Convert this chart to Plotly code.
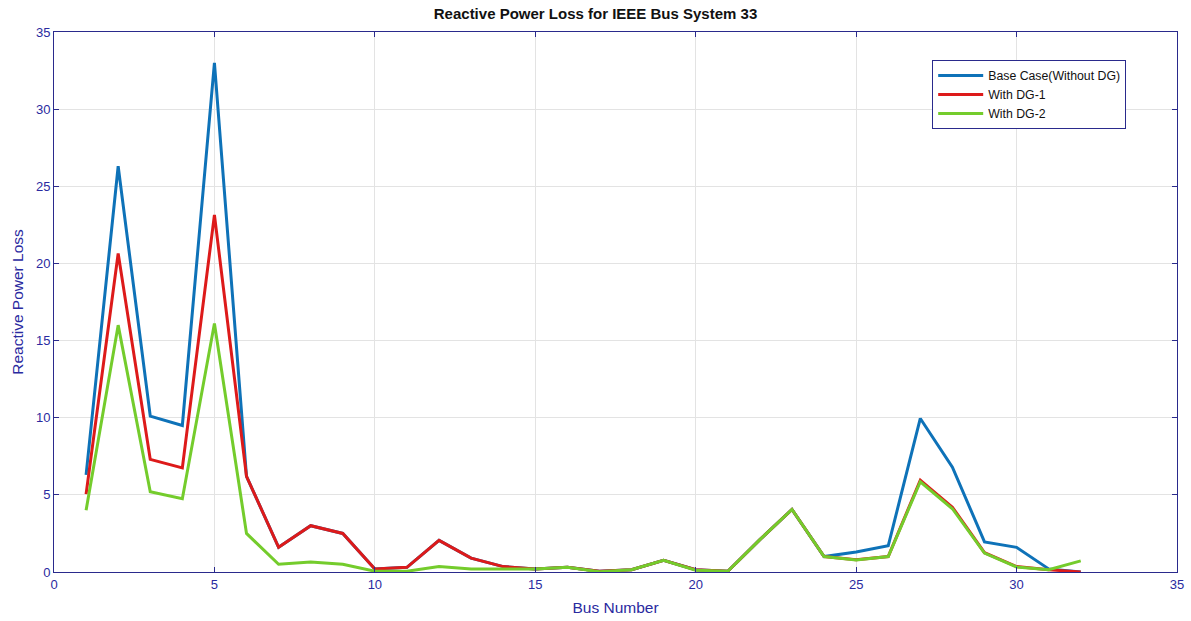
import plotly.graph_objects as go

bus = list(range(1, 33))
base_case = [6.3, 26.3, 10.1, 9.5, 33.0, 6.2, 1.6, 3.0, 2.5, 0.2, 0.3, 2.05, 0.9, 0.35, 0.2, 0.3,
             0.05, 0.15, 0.75, 0.15, 0.05, 2.1, 4.05, 1.0, 1.3, 1.7, 9.95, 6.8, 1.95, 1.6, 0.2, 0.0]
with_dg1 = [5.05, 20.65, 7.3, 6.75, 23.15, 6.2, 1.6, 3.0, 2.5, 0.2, 0.3, 2.05, 0.9, 0.35, 0.2, 0.3,
            0.05, 0.15, 0.75, 0.15, 0.05, 2.1, 4.05, 1.0, 0.8, 1.0, 5.95, 4.2, 1.25, 0.35, 0.15, 0.0]
with_dg2 = [4.0, 16.0, 5.2, 4.75, 16.1, 2.5, 0.5, 0.65, 0.5, 0.05, 0.05, 0.35, 0.2, 0.2, 0.2, 0.3,
            0.02, 0.15, 0.75, 0.12, 0.05, 2.1, 4.05, 1.0, 0.78, 1.0, 5.85, 4.1, 1.23, 0.33, 0.15, 0.72]

names = ["Base Case(Without DG)", "With DG-1", "With DG-2"]
colors = ["#0e72b8", "#dd1a1a", "#74cc2c"]

axis_col = "#2a2a8c"
tick_col = "#2a2aa0"

fig = go.Figure()
for y, n, c in zip([base_case, with_dg1, with_dg2], names, colors):
    fig.add_trace(go.Scatter(x=bus, y=y, mode="lines", name=n,
                             line=dict(color=c, width=3)))

axis_common = dict(showline=True, mirror="ticks", linecolor=axis_col, linewidth=1,
                   ticks="inside", ticklen=5, tickcolor=axis_col,
                   showgrid=True, gridcolor="#e3e3e3", gridwidth=1, zeroline=False,
                   tickfont=dict(family="Liberation Sans, Arial", size=13, color=tick_col))

fig.update_layout(
    width=1191, height=621,
    paper_bgcolor="white", plot_bgcolor="white",
    margin=dict(l=54, r=14, t=32, b=49, autoexpand=False),
    title=dict(text="<b>Reactive Power Loss for IEEE Bus System 33</b>", x=0.5, xanchor="center",
               y=0.987, yanchor="top",
               font=dict(family="Liberation Sans, Arial", size=15, color="#111111")),
    xaxis=dict(range=[0, 35], dtick=5,
               title=dict(text="Bus Number", standoff=11,
                          font=dict(family="Liberation Sans, Arial", size=15.5, color=tick_col)),
               **axis_common),
    yaxis=dict(range=[0, 35], dtick=5,
               title=dict(text="Reactive Power Loss", standoff=8,
                          font=dict(family="Liberation Sans, Arial", size=15.5, color=tick_col)),
               **axis_common),
    legend=dict(x=0.782, y=0.948, xanchor="left", yanchor="top",
                bgcolor="white", bordercolor=axis_col, borderwidth=1,
                font=dict(family="Liberation Sans, Arial", size=12.3, color="#111111"),
                tracegroupgap=0, itemwidth=45),
    showlegend=True,
)

fig.write_html("out.html",
               config={"displayModeBar": False},
               post_script="document.body.style.margin='0';document.body.style.padding='0';"
                           "document.body.style.overflow='hidden';")
